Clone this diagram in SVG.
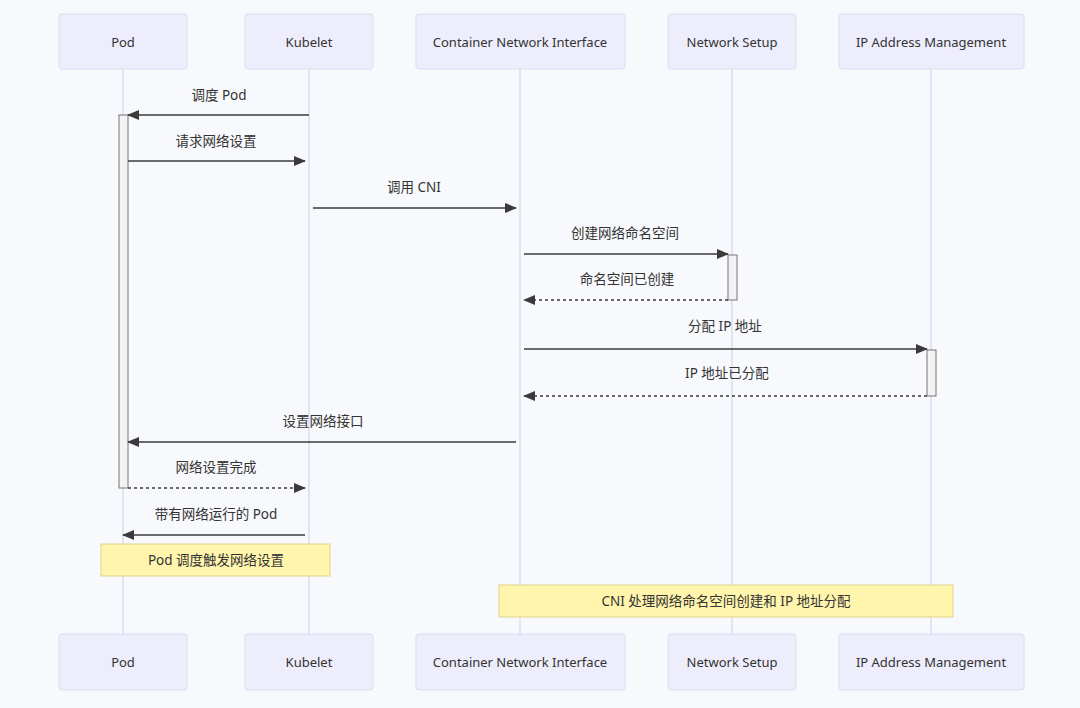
<svg xmlns="http://www.w3.org/2000/svg" width="1080" height="708" viewBox="0 0 1080 708">
<defs>
<marker id="ah" viewBox="0 0 12 10" refX="11" refY="5" markerWidth="12" markerHeight="10" markerUnits="userSpaceOnUse" orient="auto">
<path d="M0,0 L12,5 L0,10 z" fill="#3a3a3a"/>
</marker>
<style>
.bg{fill:#f8f9fc}
.actor rect{fill:#ededfb;stroke:#dcdcf3;stroke-width:1}
.actor text{font-family:"Noto Sans","Noto Sans CJK SC",sans-serif;font-size:13px;fill:#333;text-anchor:middle;dominant-baseline:central}
.life{stroke:#d4d4ef;stroke-width:1.2}
.msg{stroke:#3a3a3a;stroke-width:1.4;fill:none;marker-end:url(#ah)}
.dash{stroke-dasharray:3,3}
.lbl{font-family:"Noto Sans","Noto Sans CJK SC",sans-serif;font-size:13.5px;fill:#333;text-anchor:middle}
.act{fill:#f3f3f3;stroke:#777;stroke-width:1}
.note rect{fill:#fff5ad;stroke:#ddd38a;stroke-width:1}
.note text{font-family:"Noto Sans","Noto Sans CJK SC",sans-serif;font-size:13.5px;fill:#333;text-anchor:middle;dominant-baseline:central}
</style>
</defs>
<rect class="bg" x="0" y="0" width="1080" height="708"/>
<g id="lifelines">
<line class="life" x1="123" y1="69" x2="123" y2="634"/>
<line class="life" x1="309" y1="69" x2="309" y2="634"/>
<line class="life" x1="520" y1="69" x2="520" y2="634"/>
<line class="life" x1="732" y1="69" x2="732" y2="634"/>
<line class="life" x1="931" y1="69" x2="931" y2="634"/>
</g>
<g id="actor-pod" class="actor"><rect x="59" y="14" width="128" height="55" rx="3"/><text x="123" y="42">Pod</text></g>
<g id="actor-kubelet" class="actor"><rect x="245" y="14" width="128" height="55" rx="3"/><text x="309" y="42">Kubelet</text></g>
<g id="actor-cni" class="actor"><rect x="416" y="14" width="209" height="55" rx="3"/><text x="520" y="42">Container Network Interface</text></g>
<g id="actor-ns" class="actor"><rect x="668" y="14" width="128" height="55" rx="3"/><text x="732" y="42">Network Setup</text></g>
<g id="actor-ipam" class="actor"><rect x="839" y="14" width="185" height="55" rx="3"/><text x="931" y="42">IP Address Management</text></g>
<g id="activations">
<rect class="act" x="119" y="115" width="9" height="373"/>
<rect class="act" x="728" y="255" width="9" height="45"/>
<rect class="act" x="927" y="350" width="9" height="46"/>
</g>
<g id="connectors">
<line class="msg" x1="309" y1="115" x2="128" y2="115"/>
<text class="lbl" x="219" y="100">调度 Pod</text>
<line class="msg" x1="128" y1="161" x2="305" y2="161"/>
<text class="lbl" x="216" y="146">请求网络设置</text>
<line class="msg" x1="313" y1="208" x2="516" y2="208"/>
<text class="lbl" x="414" y="192">调用 CNI</text>
<line class="msg" x1="524" y1="254" x2="728" y2="254"/>
<text class="lbl" x="625" y="238">创建网络命名空间</text>
<line class="msg dash" x1="728" y1="300" x2="524" y2="300"/>
<text class="lbl" x="627" y="284">命名空间已创建</text>
<line class="msg" x1="524" y1="349" x2="927" y2="349"/>
<text class="lbl" x="725" y="331">分配 IP 地址</text>
<line class="msg dash" x1="927" y1="396" x2="524" y2="396"/>
<text class="lbl" x="727" y="378">IP 地址已分配</text>
<line class="msg" x1="516" y1="442" x2="128" y2="442"/>
<text class="lbl" x="323" y="426">设置网络接口</text>
<line class="msg dash" x1="128" y1="488" x2="305" y2="488"/>
<text class="lbl" x="216" y="472">网络设置完成</text>
<line class="msg" x1="305" y1="535" x2="123" y2="535"/>
<text class="lbl" x="216" y="519">带有网络运行的 Pod</text>
</g>
<g id="note-pod" class="note"><rect x="101" y="544" width="229" height="32"/><text x="216" y="560">Pod 调度触发网络设置</text></g>
<g id="note-cni" class="note"><rect x="499" y="585" width="454" height="32"/><text x="726" y="601">CNI 处理网络命名空间创建和 IP 地址分配</text></g>
<g id="actor-pod-b" class="actor"><rect x="59" y="634" width="128" height="56" rx="3"/><text x="123" y="662">Pod</text></g>
<g id="actor-kubelet-b" class="actor"><rect x="245" y="634" width="128" height="56" rx="3"/><text x="309" y="662">Kubelet</text></g>
<g id="actor-cni-b" class="actor"><rect x="416" y="634" width="209" height="56" rx="3"/><text x="520" y="662">Container Network Interface</text></g>
<g id="actor-ns-b" class="actor"><rect x="668" y="634" width="128" height="56" rx="3"/><text x="732" y="662">Network Setup</text></g>
<g id="actor-ipam-b" class="actor"><rect x="839" y="634" width="185" height="56" rx="3"/><text x="931" y="662">IP Address Management</text></g>
</svg>
